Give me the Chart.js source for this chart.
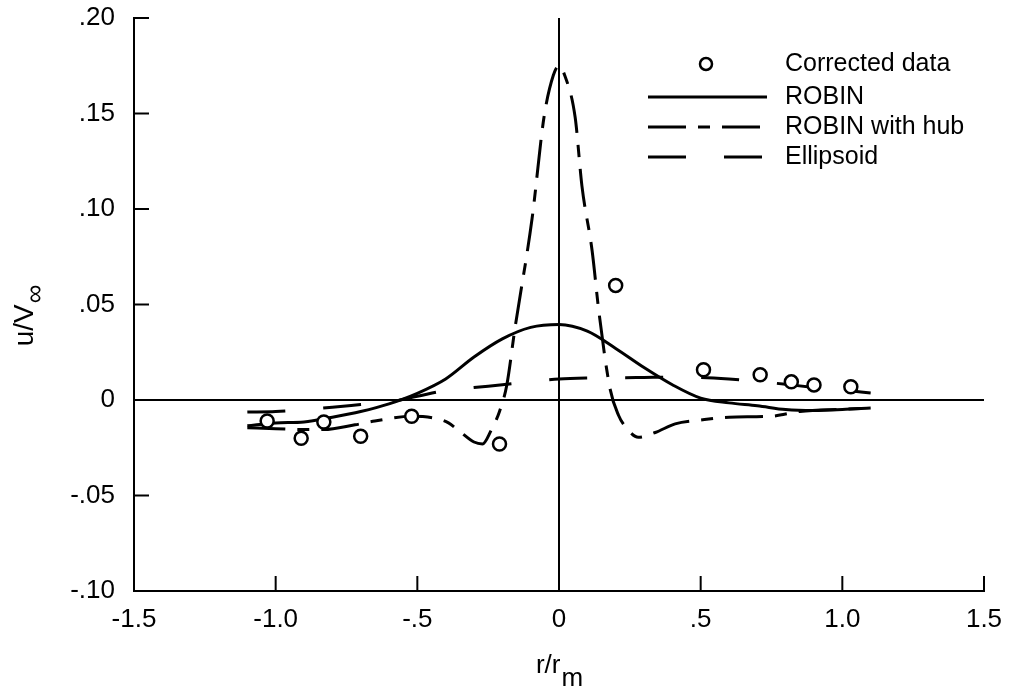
<!DOCTYPE html>
<html>
<head>
<meta charset="utf-8">
<script src="https://cdn.jsdelivr.net/npm/chart.js@4.4.0/dist/chart.umd.min.js"></script>
<style>
  html, body { margin: 0; padding: 0; background: #fff; }
  canvas { display: block; }
</style>
</head>
<body>
<canvas id="grafica" width="1011" height="697"></canvas>
<script>
// corrected data (circles)
const datosX = [-1.03, -0.91, -0.83, -0.70, -0.52, -0.21, 0.20, 0.51, 0.71, 0.82, 0.90, 1.03];
const datosY = [-0.011, -0.020, -0.0115, -0.019, -0.0085, -0.023, 0.060, 0.0158, 0.0132, 0.0095, 0.0079, 0.0069];

// ROBIN
const robinX = [-1.1, -1.0, -0.9, -0.8, -0.7, -0.6, -0.5, -0.4, -0.3, -0.2, -0.1, 0, 0.1, 0.2, 0.3, 0.4, 0.5, 0.6, 0.7, 0.8, 0.9, 1.0, 1.1];
const robinY = [-0.0135, -0.012, -0.0115, -0.009, -0.006, -0.002, 0.0035, 0.011, 0.0225, 0.032, 0.038, 0.0395, 0.036, 0.027, 0.017, 0.008, 0.001, -0.0015, -0.003, -0.005, -0.0055, -0.005, -0.0042];

// ROBIN with hub
const hubX = [-1.1, -1.0, -0.9, -0.83, -0.72, -0.65, -0.52, -0.44, -0.39, -0.35, -0.30, -0.27, -0.24, -0.21, -0.184, -0.156, -0.095, -0.053, -0.02, 0, 0.02, 0.057, 0.081, 0.117, 0.141, 0.18, 0.21, 0.24, 0.28, 0.34, 0.41, 0.5, 0.6, 0.75, 0.85, 1.0, 1.1];
const hubY = [-0.0145, -0.015, -0.0155, -0.0155, -0.013, -0.011, -0.0085, -0.0095, -0.012, -0.0165, -0.022, -0.023, -0.016, -0.006, 0.008, 0.037, 0.095, 0.148, 0.170, 0.175, 0.170, 0.148, 0.112, 0.078, 0.046, 0.006, -0.008, -0.015, -0.0195, -0.017, -0.0125, -0.0105, -0.009, -0.0085, -0.006, -0.0048, -0.0042];

// Ellipsoid
const elipX = [-1.1, -1.0, -0.9, -0.8, -0.7, -0.6, -0.5, -0.4, -0.3, -0.2, -0.1, 0, 0.1, 0.2, 0.3, 0.4, 0.5, 0.6, 0.7, 0.8, 0.9, 1.0, 1.1];
const elipY = [-0.0063, -0.006, -0.005, -0.0038, -0.0024, -0.001, 0.002, 0.005, 0.0065, 0.008, 0.0095, 0.011, 0.0115, 0.0116, 0.0118, 0.012, 0.0118, 0.011, 0.0098, 0.0082, 0.0066, 0.0052, 0.0037];

const ticksX = [-1.5, -1.0, -0.5, 0, 0.5, 1.0, 1.5];
const ticksY = [-0.10, -0.05, 0, 0.05, 0.10, 0.15, 0.20];
const nombres = ["Corrected data", "ROBIN", "ROBIN with hub", "Ellipsoid"];

const FUENTE = '"Liberation Sans", Arial, Helvetica, sans-serif';
const DASH_HUB = [38, 12, 12, 12];
const DASH_ELIP = [38, 38];

function puntos(xs, ys) {
  return xs.map((x, i) => ({ x: x, y: ys[i] }));
}

function etiqueta(v, dec) {
  if (Math.abs(v) < 1e-9) return "0";
  let s = Math.abs(v).toFixed(dec);
  if (s.startsWith("0")) s = s.slice(1);
  return (v < 0 ? "-" : "") + s;
}

const extras = {
  id: "extras",
  afterDraw(chart) {
    const ctx = chart.ctx;
    const { left, right, top, bottom } = chart.chartArea;
    const sx = chart.scales.x, sy = chart.scales.y;
    ctx.save();
    ctx.strokeStyle = "#000";
    ctx.fillStyle = "#000";
    ctx.lineWidth = 2;

    // inward tick marks
    ticksY.forEach(v => {
      const py = sy.getPixelForValue(v);
      ctx.beginPath(); ctx.moveTo(left, py); ctx.lineTo(left + 15, py); ctx.stroke();
    });
    ticksX.forEach(v => {
      const px = sx.getPixelForValue(v);
      ctx.beginPath(); ctx.moveTo(px, bottom); ctx.lineTo(px, bottom - 15); ctx.stroke();
    });

    // axis titles with subscripts
    ctx.textBaseline = "alphabetic";
    ctx.textAlign = "left";
    ctx.font = "26px " + FUENTE;
    let w1 = ctx.measureText("r/r").width;
    let w2 = ctx.measureText("m").width;
    let x0 = (left + right) / 2 - (w1 + w2) / 2;
    ctx.fillText("r/r", x0, 673);
    ctx.fillText("m", x0 + w1 + 1, 686);

    ctx.save();
    ctx.translate(33, 316);
    ctx.rotate(-Math.PI / 2);
    ctx.font = "28px " + FUENTE;
    w1 = ctx.measureText("u/V").width;
    ctx.font = "26px " + FUENTE;
    w2 = ctx.measureText("\u221e").width;
    x0 = -(w1 + w2) / 2;
    ctx.font = "28px " + FUENTE;
    ctx.fillText("u/V", x0, 0);
    ctx.font = "26px " + FUENTE;
    ctx.fillText("\u221e", x0 + w1 + 1, 10);
    ctx.restore();

    // legend
    const filas = [64, 97, 127, 157];
    ctx.font = "25px " + FUENTE;
    ctx.textBaseline = "middle";
    nombres.forEach((n, i) => ctx.fillText(n, 785, filas[i]));
    ctx.beginPath(); ctx.arc(706, filas[0], 6, 0, Math.PI * 2); ctx.lineWidth = 2.5; ctx.stroke();
    ctx.lineWidth = 3;
    [[], DASH_HUB, DASH_ELIP].forEach((d, i) => {
      ctx.setLineDash(d);
      ctx.beginPath(); ctx.moveTo(648, filas[i + 1]); ctx.lineTo(767, filas[i + 1]); ctx.stroke();
    });
    ctx.restore();
  }
};

window.onload = () => {
  new Chart(document.getElementById("grafica"), {
    type: "scatter",
    data: {
      datasets: [
        {
          label: nombres[0],
          data: puntos(datosX, datosY),
          pointRadius: 6.5,
          borderWidth: 2.5,
          borderColor: "#000",
          backgroundColor: "#fff",
        },
        {
          label: nombres[1],
          data: puntos(robinX, robinY),
          showLine: true,
          pointRadius: 0,
          borderWidth: 3,
          borderColor: "#000",
          cubicInterpolationMode: "monotone",
        },
        {
          label: nombres[2],
          data: puntos(hubX, hubY),
          showLine: true,
          pointRadius: 0,
          borderWidth: 3,
          borderColor: "#000",
          borderDash: DASH_HUB,
          cubicInterpolationMode: "monotone",
        },
        {
          label: nombres[3],
          data: puntos(elipX, elipY),
          showLine: true,
          pointRadius: 0,
          borderWidth: 3,
          borderColor: "#000",
          borderDash: DASH_ELIP,
          cubicInterpolationMode: "monotone",
        },
      ],
    },
    options: {
      responsive: false,
      animation: false,
      layout: { padding: { top: 18, right: 27, left: 0, bottom: 0 } },
      plugins: { legend: { display: false }, tooltip: { enabled: false } },
      scales: {
        x: {
          min: -1.5,
          max: 1.5,
          afterBuildTicks: s => { s.ticks = ticksX.map(v => ({ value: v })); },
          afterFit: s => { s.height = 106; s.paddingLeft = 0; s.paddingRight = 0; },
          border: { display: true, color: "#000", width: 2 },
          grid: {
            drawTicks: false,
            lineWidth: 2,
            color: c => (c.tick && Math.abs(c.tick.value) < 1e-9 ? "#000" : "rgba(0,0,0,0)"),
          },
          ticks: {
            padding: 13,
            color: "#000",
            font: { family: FUENTE, size: 26 },
            maxRotation: 0,
            autoSkip: false,
            callback: v => etiqueta(v, 1),
          },
        },
        y: {
          min: -0.10,
          max: 0.20,
          afterBuildTicks: s => { s.ticks = ticksY.map(v => ({ value: v })); },
          afterFit: s => { s.width = 134; s.paddingTop = 0; s.paddingBottom = 0; },
          border: { display: true, color: "#000", width: 2 },
          grid: {
            drawTicks: false,
            lineWidth: 2,
            color: c => (c.tick && Math.abs(c.tick.value) < 1e-9 ? "#000" : "rgba(0,0,0,0)"),
          },
          ticks: {
            padding: 19,
            color: "#000",
            font: { family: FUENTE, size: 26 },
            autoSkip: false,
            callback: v => etiqueta(v, 2),
          },
        },
      },
    },
    plugins: [extras],
  });
};
</script>
</body>
</html>
